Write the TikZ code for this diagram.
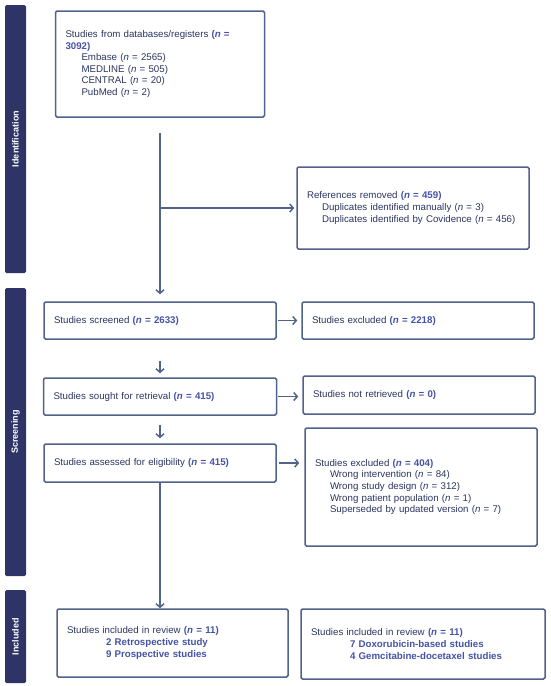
\documentclass[tikz,border=0pt]{standalone}
\usepackage{fontspec}
\setmainfont{Liberation Sans}
\usetikzlibrary{arrows.meta}
\definecolor{barcol}{HTML}{2E3566}
\definecolor{edgecol}{HTML}{50638A}
\definecolor{txtcol}{HTML}{2B3560}
\definecolor{nbluecol}{HTML}{4453A6}
\newcommand{\myNb}[1]{\textcolor{nbluecol}{\textbf{(\textit{n} = #1)}}}
\newcommand{\myNn}[1]{(\textit{n} = #1)}
\newcommand{\myInd}[1]{\hspace*{#1}}
\begin{document}
\begin{tikzpicture}[x=1pt,y=-1pt,
  box/.style={draw=edgecol, line width=1.5pt, rounded corners=1.5pt, fill=white,
    inner xsep=10pt, inner ysep=0pt, align=left, text=txtcol,
    font=\fontsize{9.7}{11.6}\selectfont},
  sidebar/.style={fill=barcol, rounded corners=1.5pt, rotate=90, text=white,
    font=\bfseries\fontsize{9}{10}\selectfont, minimum height=21pt, inner sep=0pt},
  conn/.style={draw=edgecol, line width=1.5pt},
  arr/.style={conn, -{Straight Barb[length=3.5pt,width=8pt]}}]
\useasboundingbox (0,0) rectangle (550,686);
% side bars
\node[sidebar, minimum width=268pt] (bI) at (15.5,139) {Identification};
\node[sidebar, minimum width=288pt] (bS) at (15.5,432) {Screening};
\node[sidebar, minimum width=93pt] (bC) at (15.5,636.5) {Included};
% boxes
\node[box, text width=189pt, minimum height=106pt] (b1) at (160,64)
  {\mbox{Studies from databases/registers \textcolor{nbluecol}{\textbf{(\textit{n} =}}}\\
   \textcolor{nbluecol}{\textbf{3092)}}\\
   \myInd{16pt}Embase \myNn{2565}\\
   \myInd{16pt}MEDLINE \myNn{505}\\
   \myInd{16pt}CENTRAL \myNn{20}\\
   \myInd{16pt}PubMed \myNn{2}};
\node[box, text width=212pt, minimum height=82pt] (ref) at (413,208)
  {References removed \myNb{459}\\
   \myInd{15pt}Duplicates identified manually \myNn{3}\\
   \myInd{15pt}Duplicates identified by Covidence \myNn{456}};
\node[box, text width=212pt, minimum height=37pt] (scr) at (160,320.5)
  {Studies screened \myNb{2633}};
\node[box, text width=212pt, minimum height=37pt] (ex1) at (418,320.5)
  {Studies excluded \myNb{2218}};
\node[box, text width=213pt, minimum height=37pt] (sought) at (160,396.5)
  {Studies sought for retrieval \myNb{415}};
\node[box, text width=212pt, minimum height=38pt] (notret) at (419,395)
  {Studies not retrieved \myNb{0}};
\node[box, text width=212pt, minimum height=38pt] (assess) at (160,463)
  {Studies assessed for eligibility \myNb{415}};
\node[box, text width=212pt, minimum height=118pt] (ex2) at (421,487)
  {Studies excluded \myNb{404}\\
   \myInd{15pt}Wrong intervention \myNn{84}\\
   \myInd{15pt}Wrong study design \myNn{312}\\
   \myInd{15pt}Wrong patient population \myNn{1}\\
   \myInd{15pt}Superseded by updated version \myNn{7}};
\node[box, text width=211pt, minimum height=68pt] (inc1) at (172.5,643)
  {Studies included in review \myNb{11}\\
   \myInd{39pt}\textcolor{nbluecol}{\textbf{2 Retrospective study}}\\
   \myInd{39pt}\textcolor{nbluecol}{\textbf{9 Prospective studies}}};
\node[box, text width=224pt, minimum height=70pt] (inc2) at (423,644)
  {Studies included in review \myNb{11}\\
   \myInd{39pt}\textcolor{nbluecol}{\textbf{7 Doxorubicin-based studies}}\\
   \myInd{39pt}\textcolor{nbluecol}{\textbf{4 Gemcitabine-docetaxel studies}}};
% connectors
\draw[arr] ([yshift=-15pt]b1.south) -- ([yshift=7pt]scr.north);
\draw[arr] (b1.south |- ref.west) -- ([xshift=-2pt]ref.west);
\draw[arr, shorten <=1pt, shorten >=4pt] (scr.east) -- (ex1.west);
\draw[arr, shorten <=21pt, shorten >=4pt] (scr.south) -- (sought.north);
\draw[arr, shorten <=1pt, shorten >=4pt] (sought.east) -- (sought.east -| notret.west);
\draw[arr, shorten <=9pt, shorten >=5pt] (sought.south) -- (assess.north);
\draw[arr, shorten <=2pt, shorten >=5pt] (assess.east) -- (assess.east -| ex2.west);
\draw[arr] (assess.south) -- (assess.south |- inc1.north);
\end{tikzpicture}
\end{document}
